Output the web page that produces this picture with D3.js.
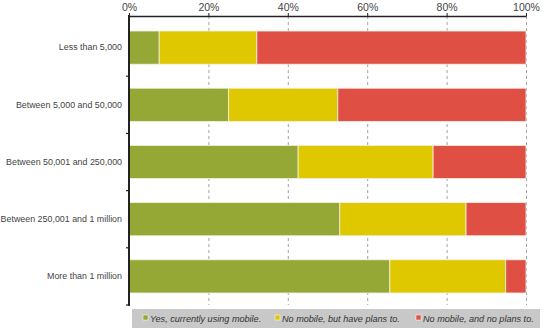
<!DOCTYPE html>
<html><head><meta charset="utf-8">
<script src="https://cdn.jsdelivr.net/npm/d3@7"></script>
<style>
html,body{margin:0;padding:0;background:#fff;}
svg{display:block;font-family:"Liberation Sans",Arial,sans-serif;}
</style></head>
<body><svg id="c" width="545" height="329"></svg>
<script>
const categories = ["Less than 5,000","Between 5,000 and 50,000","Between 50,001 and 250,000","Between 250,001 and 1 million","More than 1 million"];
const seriesNames = ["Yes, currently using mobile.","No mobile, but have plans to.","No mobile, and no plans to."];
const yesMobile = [7.6, 25.1, 42.6, 53.1, 65.7];
const plansTo   = [24.6, 27.5, 34.0, 31.8, 29.2];
const noPlans   = [67.8, 47.4, 23.4, 15.1, 5.1];
const colors = ["#95a835","#dfc800","#e04f44"];
const xTicks = [0,20,40,60,80,100];

const svg = d3.select("#c");
const x = d3.scaleLinear().domain([0,100]).range([129,526]);
const y = d3.scaleBand().domain(categories).range([19,305]).paddingInner(0.42).paddingOuter(0.21);

const rows = categories.map((c,i)=>({cat:c, vals:[yesMobile[i],plansTo[i],noPlans[i]]}));
const stackData = rows.map(r=>{let s=0;return r.vals.map((v,k)=>{const o={cat:r.cat,x0:s,x1:s+v,k};s+=v;return o;});}).flat();

// gridlines
svg.append("g").selectAll("line").data(xTicks.slice(1)).join("line")
  .attr("x1",d=>x(d)+0.5).attr("x2",d=>x(d)+0.5).attr("y1",16).attr("y2",305)
  .attr("stroke","#8a8a8a").attr("stroke-width",0.8).attr("stroke-dasharray","3,3");

// bars
svg.append("g").selectAll("rect").data(stackData).join("rect")
  .attr("x",d=>x(d.x0)).attr("width",d=>x(Math.min(d.x1,100))-x(d.x0))
  .attr("y",d=>y(d.cat)).attr("height",y.bandwidth())
  .attr("fill",d=>colors[d.k]).attr("stroke","#f4f0e0").attr("stroke-width",0.8);

// top axis
const xAxis = d3.axisTop(x).tickValues(xTicks).tickFormat(d=>d+"%").tickSizeInner(3).tickSizeOuter(0);
const gx = svg.append("g").attr("transform","translate(0,16)").call(xAxis);
gx.select(".domain").attr("stroke","#222").attr("stroke-width",1.6);
gx.selectAll(".tick line").attr("stroke","#222").attr("stroke-width",1);
gx.selectAll("text").attr("fill","#444").attr("font-size",10.5).attr("dy","0.1em");

// left axis
const yAxis = d3.axisLeft(y).tickSize(0).tickPadding(7);
const gy = svg.append("g").attr("transform","translate(129,0)").call(yAxis);
gy.select(".domain").remove();
gy.selectAll("text").attr("fill","#444").attr("font-size",8.9);
svg.append("line").attr("x1",129).attr("x2",129).attr("y1",15).attr("y2",306).attr("stroke","#222").attr("stroke-width",2);
svg.append("g").selectAll("line").data(categories).join("line")
  .attr("x1",126).attr("x2",129)
  .attr("y1",(d,i)=>19+y.step()*(i+1)).attr("y2",(d,i)=>19+y.step()*(i+1))
  .attr("stroke","#222").attr("stroke-width",1.2);

// legend
const lg = svg.append("g");
lg.append("rect").attr("x",132).attr("y",309).attr("width",408).attr("height",19).attr("fill","#c8c8c8");
const lx = [143,275,416];
seriesNames.forEach((s,k)=>{
  lg.append("rect").attr("x",lx[k]).attr("y",315).attr("width",5).attr("height",5).attr("fill",colors[k]).attr("stroke","#fff").attr("stroke-width",0.5);
  lg.append("text").attr("x",lx[k]+7).attr("y",322).attr("font-size",9.1).attr("font-style","italic").attr("fill","#333").text(s);
});
</script></body></html>
